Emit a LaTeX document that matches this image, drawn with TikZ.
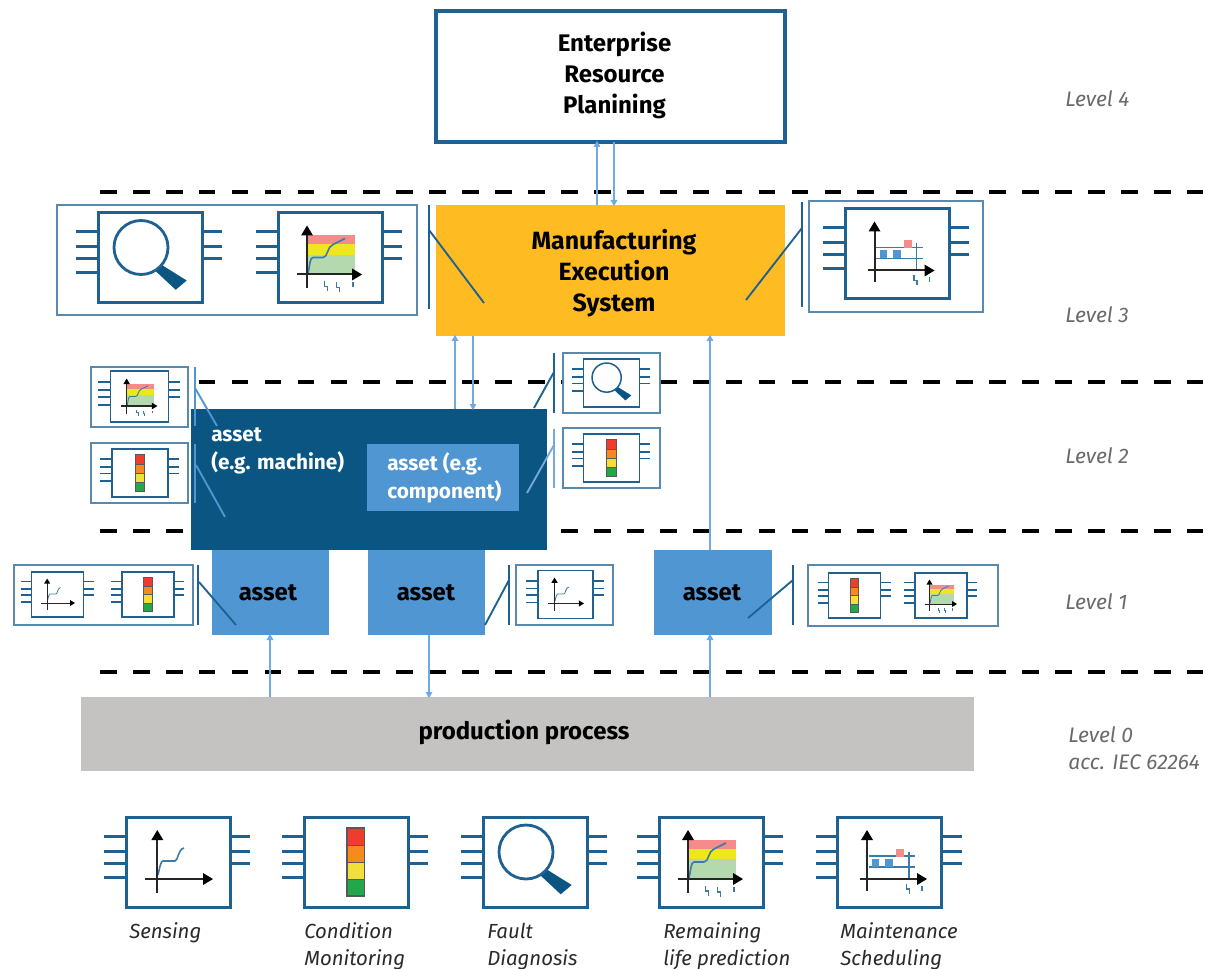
\documentclass[tikz,border=0pt]{standalone}
\usepackage{fontspec}
\setmainfont{Fira Sans}
\usetikzlibrary{calc}
\definecolor{navy}{HTML}{0B5583}
\definecolor{steel}{HTML}{1F6191}
\definecolor{panelc}{HTML}{5A89AE}
\definecolor{azure}{HTML}{5096D2}
\definecolor{sky}{HTML}{74A9E0}
\definecolor{amber}{HTML}{FFBC22}
\definecolor{stone}{HTML}{C4C3C1}
\definecolor{curvec}{HTML}{3F7AA5}
\definecolor{bandr}{HTML}{F58C8C}
\definecolor{bandy}{HTML}{EEE61E}
\definecolor{bandg}{HTML}{B5D9AE}
\definecolor{lampr}{HTML}{F03C2E}
\definecolor{lampo}{HTML}{F58A20}
\definecolor{lampy}{HTML}{F2E03A}
\definecolor{lampg}{HTML}{22A84A}
\definecolor{grayt}{HTML}{6A6A6A}
\definecolor{darkt}{HTML}{2A2A2A}
\def\ics{1}
\tikzset{
  wh/.style 2 args={minimum width=#1*0.75pt,minimum height=#2*0.75pt,inner sep=0pt,outer sep=0pt},
  lw/.style={line width=\ics*#1*0.75pt},
  levelrule/.style={black,line width=2.6pt,dash pattern=on 12.5pt off 12.2pt},
  flow/.style={sky,line width=1.3pt},
  flowtip/.style={sky},
  boldlabel/.style={font=\fontsize{18pt}{23.25pt}\selectfont\bfseries,align=center,text=black,inner sep=0pt},
  meslabel/.style={font=\fontsize{18.7pt}{23.25pt}\selectfont\bfseries,align=center,text=black,inner sep=0pt},
  whitelabel/.style={font=\fontsize{15.6pt}{21pt}\selectfont\bfseries,align=left,text=white,anchor=west,inner sep=0pt},
  levellabel/.style={font=\fontsize{15.8pt}{20.25pt}\selectfont\itshape,text=grayt,align=left,anchor=west,inner sep=0pt},
  iconlabel/.style={font=\fontsize{15.3pt}{20.25pt}\selectfont\itshape,text=darkt,align=left,anchor=north west,inner sep=0pt},
  panel/.style={draw=panelc,fill=white,line width=1.6pt},
  iconbox/.style={draw=steel,fill=white},
  barline/.style={line width=2.2pt,line cap=butt},
  leader/.style={line width=1.4pt},
}
% glyphs drawn around the icon centre, in reference pixels at full size
\newcommand{\pins}{%
  \foreach \yy in {-26,-11,1,15} \draw[steel,lw=3] (-74,\yy) -- (-52,\yy);
  \foreach \yy in {-26,-11,1} \draw[steel,lw=3] (52,\yy) -- (72,\yy);
}
\newcommand{\bolt}[2]{\draw[curvec,lw=1.4] (#1-1.5,#2-5) -- (#1-1.5,#2) -- (#1+1.5,#2) -- (#1+1.5,#2+5);}
\newcommand{\vaxis}[3]{%
  \draw[black!85,lw=2] (#1,#2+6) -- (#1,#3);
  \fill[black] (#1,#2-2) -- (#1-6,#2+8) -- (#1+6,#2+8) -- cycle;}
\newcommand{\haxis}[3]{%
  \draw[black!85,lw=2] (#2,#1) -- (#3-6,#1);
  \fill[black] (#3+2,#1) -- (#3-8,#1-6) -- (#3-8,#1+6) -- cycle;}
\newcommand{\iconSense}{%
  \draw[curvec,lw=1.6] (-20,13) .. controls (-18,4) and (-17,-1) .. (-15,-1) -- (-3,-1) .. controls (0,-1) and (0,-13) .. (6,-14);
  \vaxis{-20.7}{-30}{31}\haxis{17}{-33}{33}}
\newcommand{\iconLamp}{%
  \fill[lampr] (-9,-34) rectangle (8.5,-17);
  \fill[lampo] (-9,-17) rectangle (8.5,0);
  \fill[lampy] (-9,0) rectangle (8.5,17);
  \fill[lampg] (-9,17) rectangle (8.5,34);
  \draw[black!65,lw=1.2] (-9,-34) rectangle (8.5,34);
  \draw[black!65,lw=1] (-9,-17) -- (8.5,-17) (-9,0) -- (8.5,0) (-9,17) -- (8.5,17);}
\newcommand{\iconLens}{%
  \fill[navy] (11,7) -- (36.7,23) -- (25.7,32.3) -- (5,13) -- cycle;
  \draw[steel,fill=white,lw=2.8] (-9,-10) circle [radius=27];}
\newcommand{\iconLife}{%
  \fill[bandr] (-22,-22) rectangle (25,-13);
  \fill[bandy] (-22,-13) rectangle (25,-2.7);
  \fill[bandg] (-22,-2.7) rectangle (25,17);
  \draw[curvec,lw=1.6] (-22,16) .. controls (-20,7) and (-20,0) .. (-17,0) -- (-7,0) .. controls (-2,0) and (-3,-11) .. (3,-13) -- (15,-19);
  \vaxis{-23}{-30}{31}\haxis{17}{-33}{30}
  \bolt{-4}{29}\bolt{8}{30}\draw[curvec,lw=1.4] (23,25) -- (23,30);}
\newcommand{\iconPlan}{%
  \draw[curvec,lw=1.4] (-21,-6) -- (25.5,-6) (-21,5) -- (25.5,5) (19.5,-10) -- (19.5,17);
  \fill[azure] (-17.5,-3) rectangle (-10.5,5);
  \fill[azure] (-4.5,-3) rectangle (3.5,5);
  \fill[bandr] (6.5,-13) rectangle (14.5,-5);
  \vaxis{-22.5}{-30}{29}\haxis{17}{-29.5}{35.5}
  \bolt{18.5}{27}\draw[curvec,lw=1.4] (32.5,24) -- (32.5,29);}
% name, centre x, centre y, scale, glyph
\newcommand{\chip}[5]{%
  \begin{scope}[shift={(#2,#3)},scale=#4]
    \def\ics{#4}
    \pins
    \node[iconbox,lw=3,wh={104*#4}{90*#4}] (#1) at (0,0) {};
    \csname icon#5\endcsname
  \end{scope}}
\begin{document}
\begin{tikzpicture}[x=0.75pt,y=-0.75pt]
\useasboundingbox (0,0) rectangle (1205,969);
% level rules
\foreach \yy/\nm in {192/a,382/b,531/c,672/d} {
  \coordinate (rule\nm l) at (100,\yy);
  \coordinate (rule\nm r) at (1205,\yy);
  \draw[levelrule] (rule\nm l) -- (rule\nm r);
}
% main boxes
\node[draw=steel,fill=white,line width=2.6pt,wh={349}{131}] (erp) at (610.5,76.5) {};
\node[boldlabel] (erptext) at (614.5,75.5) {Enterprise\\Resource\\Planining};
\node[fill=amber,wh={349}{131}] (mes) at (610.5,270.5) {};
\node[meslabel] (mestext) at (614,273.5) {Manufacturing\\Execution\\System};
\node[fill=navy,wh={356}{141}] (machine) at (369,479.5) {};
\node[fill=azure,wh={152}{67}] (component) at (443,477.5) {};
\node[fill=azure,wh={117}{85}] (asseta) at (270.5,592.5) {};
\node[boldlabel] (assetatext) at (268,593) {asset};
\node[fill=azure,wh={117}{85}] (assetb) at (426.5,592.5) {};
\node[boldlabel] (assetbtext) at (426,593) {asset};
\node[fill=azure,wh={118}{85}] (assetc) at (713,592.5) {};
\node[boldlabel] (assetctext) at (712,593) {asset};
\node[fill=stone,wh={893}{74}] (process) at (527.5,734) {};
\node[boldlabel] (processtext) at (524,732) {production process};
\node[whitelabel] (machinetext) at (211,451) {asset\\(e.g. machine)};
\node[whitelabel] (componenttext) at (387,478) {asset (e.g.\\component)};
% flows
\newcommand{\flowup}[2]{\draw[flow] (#1) -- (#2);\fill[flowtip] ($(#2)+(0,-1)$) -- ($(#2)+(-3.5,5)$) -- ($(#2)+(3.5,5)$) -- cycle;}
\newcommand{\flowdown}[2]{\draw[flow] (#1) -- (#2);\fill[flowtip] ($(#2)+(0,1)$) -- ($(#2)+(-3.5,-5)$) -- ($(#2)+(3.5,-5)$) -- cycle;}
\coordinate (f1a) at ($(mes.north)+(-13.5,0)$); \coordinate (f1b) at ($(erp.south)+(-13.5,0)$);
\coordinate (f2a) at ($(erp.south)+(3.5,0)$); \coordinate (f2b) at ($(mes.north)+(3.5,0)$);
\flowup{f1a}{f1b}\flowdown{f2a}{f2b}
\coordinate (f3a) at (455,409); \coordinate (f3b) at (455,336);
\coordinate (f4a) at (473,336); \coordinate (f4b) at (473,409);
\flowup{f3a}{f3b}\flowdown{f4a}{f4b}
\coordinate (f5a) at (710,550); \coordinate (f5b) at (710,336);
\flowup{f5a}{f5b}
\coordinate (f6a) at (270,697); \coordinate (f6b) at (270,635);
\coordinate (f7a) at (429,635); \coordinate (f7b) at (429,697);
\coordinate (f8a) at (710,697); \coordinate (f8b) at (710,635);
\flowup{f6a}{f6b}\flowdown{f7a}{f7b}\flowup{f8a}{f8b}
% level 3 panels
\node[panel,wh={360}{110}] (panelmesl) at (237,260) {};
\chip{ml1}{150}{257.5}{1}{Lens}
\chip{ml2}{330}{257.5}{1}{Life}
\node[panel,wh={174}{111}] (panelmesr) at (896,256.5) {};
\chip{mr1}{897}{253.5}{1}{Plan}
\coordinate (b1t) at (429,205); \coordinate (b1b) at (429,309); \coordinate (b1m) at (429,230); \coordinate (b1e) at (484,303);
\draw[steel,barline] (b1t) -- (b1b); \draw[steel,leader] (b1m) -- (b1e);
\coordinate (b2t) at (802,202); \coordinate (b2b) at (802,307); \coordinate (b2m) at (802,228); \coordinate (b2e) at (746,300);
\draw[steel,barline] (b2t) -- (b2b); \draw[steel,leader] (b2m) -- (b2e);
% level 2 panels
\node[panel,wh={97}{60}] (panelp1) at (139.5,397) {};
\chip{p1}{139.5}{396.5}{0.56}{Life}
\node[panel,wh={97}{60}] (panelp2) at (139.5,473) {};
\chip{p2}{140}{473}{0.54}{Lamp}
\node[panel,wh={97}{60}] (panelp3) at (611.5,383) {};
\chip{p3}{611.5}{383}{0.54}{Lens}
\node[panel,wh={97}{60}] (panelp4) at (611.5,458) {};
\chip{p4}{611.5}{458}{0.54}{Lamp}
\coordinate (b3t) at (195,367); \coordinate (b3b) at (195,426); \coordinate (b3m) at (195,388); \coordinate (b3e) at (217,426);
\draw[azure,barline] (b3t) -- (b3b); \draw[azure,leader] (b3m) -- (b3e);
\coordinate (b4t) at (195,444); \coordinate (b4b) at (195,503); \coordinate (b4m) at (196,465); \coordinate (b4e) at (225,517);
\draw[azure,barline] (b4t) -- (b4b); \draw[azure,leader] (b4m) -- (b4e);
\coordinate (b5t) at (554,353); \coordinate (b5b) at (554,413); \coordinate (b5m) at (554,372); \coordinate (b5e) at (534,408);
\draw[steel,barline] (b5t) -- (b5b); \draw[steel,leader] (b5m) -- (b5e);
\coordinate (b6t) at (554,429); \coordinate (b6b) at (554,488); \coordinate (b6m) at (554,445); \coordinate (b6e) at (527,493);
\draw[sky,barline] (b6t) -- (b6b); \draw[sky,leader] (b6m) -- (b6e);
% level 1 panels
\node[panel,wh={179}{60}] (panels1) at (103.5,595) {};
\chip{s1}{57.5}{594.5}{0.5}{Sense}
\chip{s2}{148}{594.5}{0.5}{Lamp}
\node[panel,wh={97}{60}] (panels2) at (564.5,595) {};
\chip{s3}{565.5}{594.5}{0.53}{Sense}
\node[panel,wh={190}{61}] (panels3) at (903,595.5) {};
\chip{s4}{854.5}{595.5}{0.5}{Lamp}
\chip{s5}{941}{595.5}{0.5}{Life}
\coordinate (b7t) at (198,565); \coordinate (b7b) at (198,625); \coordinate (b7m) at (199,582); \coordinate (b7e) at (236,625);
\draw[steel,barline] (b7t) -- (b7b); \draw[steel,leader] (b7m) -- (b7e);
\coordinate (b8t) at (509,565); \coordinate (b8b) at (509,625); \coordinate (b8m) at (509,580); \coordinate (b8e) at (485,625);
\draw[steel,barline] (b8t) -- (b8b); \draw[steel,leader] (b8m) -- (b8e);
\coordinate (b9t) at (793,565); \coordinate (b9b) at (793,625); \coordinate (b9m) at (793,580); \coordinate (b9e) at (748,618);
\draw[steel,barline] (b9t) -- (b9b); \draw[steel,leader] (b9m) -- (b9e);
% legend row
\chip{k1}{178}{862}{1}{Sense}
\chip{k2}{356}{862}{1}{Lamp}
\chip{k3}{535}{862}{1}{Lens}
\chip{k4}{711}{862}{1}{Life}
\chip{k5}{889.5}{862}{1}{Plan}
\node[iconlabel] (t1) at (129,922.5) {Sensing};
\node[iconlabel] (t2) at (304,922.5) {Condition\\Monitoring};
\node[iconlabel] (t3) at (487,922.5) {Fault\\Diagnosis};
\node[iconlabel] (t4) at (663,922.5) {Remaining\\life prediction};
\node[iconlabel] (t5) at (840,922.5) {Maintenance\\Scheduling};
% level labels
\node[levellabel] (l4) at (1065,99) {Level 4};
\node[levellabel] (l3) at (1065,315) {Level 3};
\node[levellabel] (l2) at (1065,456) {Level 2};
\node[levellabel] (l1) at (1065,602) {Level 1};
\node[levellabel] (l0) at (1068,748.5) {Level 0\\acc. IEC 62264};
\end{tikzpicture}
\end{document}
